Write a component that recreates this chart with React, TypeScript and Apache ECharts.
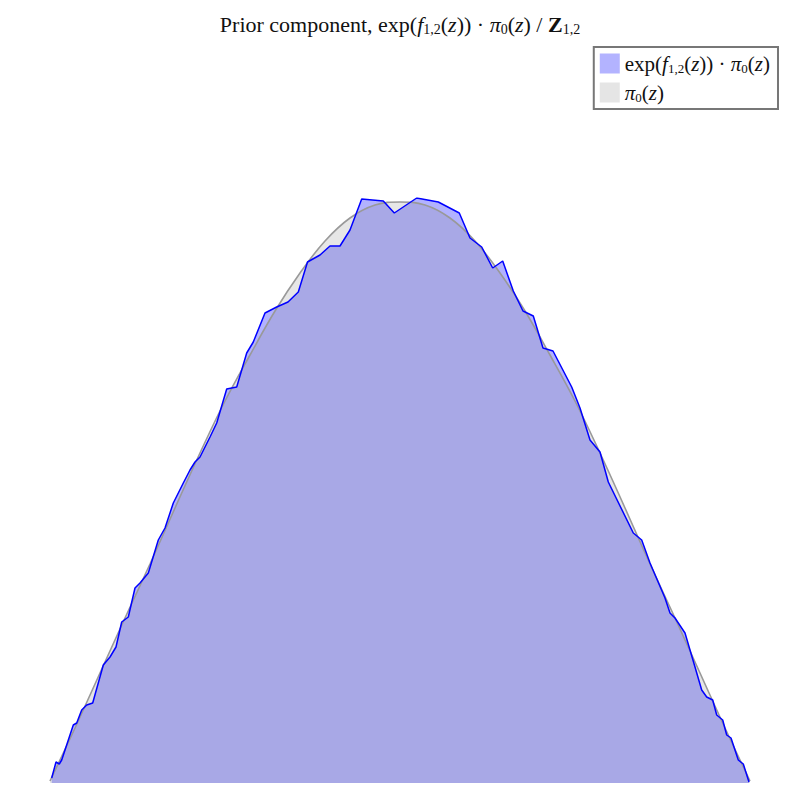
import { useEffect, useRef } from "react";
import * as echarts from "echarts";

// latent z positions and density values
const zPosterior = [
  -3.483, -3.44, -3.407, -3.383, -3.267, -3.233, -3.183, -3.133, -3.073, -2.967,
  -2.9, -2.84, -2.783, -2.717, -2.65, -2.6, -2.517, -2.417, -2.35, -2.267,
  -2.167, -2.1, -2.05, -2.0, -1.9, -1.833, -1.733, -1.633, -1.533, -1.467,
  -1.35, -1.233, -1.12, -1.017, -0.925, -0.8, -0.7, -0.6, -0.5, -0.383,
  -0.167, -0.057, 0.167, 0.383, 0.593, 0.7, 0.817, 0.927, 1.027, 1.133,
  1.23, 1.333, 1.43, 1.53, 1.717, 1.8, 1.9, 2.0, 2.083, 2.333,
  2.417, 2.5, 2.65, 2.7, 2.75, 2.85, 2.95, 3.017, 3.067, 3.127,
  3.167, 3.227, 3.267, 3.31, 3.383, 3.433, 3.49,
];
const pPosterior = [
  0.005, 0.021, 0.019, 0.023, 0.058, 0.06, 0.073, 0.078, 0.08, 0.118,
  0.126, 0.136, 0.161, 0.166, 0.195, 0.2, 0.21, 0.243, 0.255, 0.28,
  0.3, 0.313, 0.321, 0.326, 0.346, 0.36, 0.394, 0.396, 0.43, 0.441,
  0.47, 0.476, 0.481, 0.491, 0.521, 0.528, 0.537, 0.537, 0.553, 0.584,
  0.582, 0.57, 0.585, 0.581, 0.57, 0.545, 0.536, 0.515, 0.522, 0.492,
  0.472, 0.467, 0.435, 0.432, 0.396, 0.375, 0.343, 0.331, 0.301, 0.25,
  0.243, 0.22, 0.185, 0.17, 0.165, 0.15, 0.116, 0.093, 0.086, 0.083,
  0.068, 0.063, 0.048, 0.045, 0.023, 0.019, 0.001,
];

const zPrior = [
  -3.5, -3.25, -3.0, -2.75, -2.5, -2.25, -2.0, -1.75, -1.5, -1.25,
  -1.0, -0.75, -0.5, -0.25, 0.0, 0.25, 0.5, 0.75, 1.0, 1.25,
  1.5, 1.75, 2.0, 2.25, 2.5, 2.75, 3.0, 3.25, 3.5,
];
const pPrior = [
  0.002, 0.055, 0.11, 0.165, 0.219, 0.275, 0.33, 0.382, 0.428, 0.472,
  0.51, 0.542, 0.565, 0.578, 0.581, 0.578, 0.565, 0.542, 0.51, 0.472,
  0.428, 0.382, 0.33, 0.275, 0.219, 0.165, 0.11, 0.055, 0.002,
];

const postName = "exp(f(z))·π0(z)";
const priorName = "π0(z)";

const serif = "Liberation Serif";

function makeRich(size: number, sub: number, lh: number, drop: number) {
  const base = { fontFamily: serif, fontSize: size, color: "#111", fontWeight: "normal", lineHeight: lh };
  return {
    n: { ...base },
    i: { ...base, fontStyle: "italic" },
    s: { ...base, fontSize: sub, padding: [drop, 0, 0, 0] },
    b: { ...base, fontWeight: "bold" },
  };
}

const titleRich = makeRich(22, 14, 26, 11);
const legendRich = makeRich(21, 13, 20, 10);

const postLabel = "{n|exp(}{i|f}{s|1,2}{n|(}{i|z}{n|)) · }{i|π}{s|0}{n|(}{i|z}{n|)}";
const priorLabel = "{i|π}{s|0}{n|(}{i|z}{n|)}";

export default function App() {
  const chartRef = useRef<HTMLDivElement>(null);

  useEffect(() => {
    if (!chartRef.current) return;
    const chart = echarts.init(chartRef.current, null, { renderer: "svg" });

    const postData = zPosterior.map((z, i) => [z, pPosterior[i]]);
    const priorData = zPrior.map((z, i) => [z, pPrior[i]]);

    const option: echarts.EChartsOption = {
      animation: false,
      backgroundColor: "#fff",
      title: {
        text: "{n|Prior component, exp(}{i|f}{s|1,2}{n|(}{i|z}{n|)) · }{i|π}{s|0}{n|(}{i|z}{n|) / }{b|Z}{s|1,2}",
        left: "center",
        top: 6,
        textStyle: { fontWeight: "normal", rich: titleRich } as any,
      },
      legend: {
        orient: "vertical",
        right: 22,
        top: 47,
        padding: [5, 8, 5, 6],
        itemGap: 6,
        itemWidth: 20,
        itemHeight: 20,
        icon: "rect",
        borderColor: "#777",
        borderWidth: 2,
        borderRadius: 0,
        backgroundColor: "#fff",
        data: [
          { name: postName, itemStyle: { color: "#b3b3ff", borderWidth: 0 } },
          { name: priorName, itemStyle: { color: "#e5e5e5", borderWidth: 0 } },
        ],
        formatter: (name: string) => (name === postName ? postLabel : priorLabel),
        textStyle: { fontWeight: "normal", rich: legendRich } as any,
      },
      grid: { left: 50, right: 50, top: 198, bottom: 17 },
      xAxis: {
        type: "value",
        min: -3.5,
        max: 3.5,
        show: false,
      },
      yAxis: {
        type: "value",
        min: 0,
        max: 0.585,
        show: false,
      },
      series: [
        {
          name: postName,
          type: "line",
          data: postData,
          showSymbol: false,
          lineStyle: { width: 0 },
          itemStyle: { color: "#0000ff" },
          areaStyle: { color: "rgba(0,0,255,0.3)", opacity: 1 },
          z: 1,
        },
        {
          name: priorName,
          type: "line",
          data: priorData,
          smooth: 0.4,
          showSymbol: false,
          lineStyle: { color: "#999", width: 1.6 },
          itemStyle: { color: "#999" },
          areaStyle: { color: "rgba(128,128,128,0.2)", opacity: 1 },
          z: 2,
        },
        {
          name: "postLine",
          type: "line",
          data: postData,
          showSymbol: false,
          lineStyle: { color: "#0000ff", width: 1.5 },
          itemStyle: { color: "#0000ff" },
          z: 3,
        },
      ],
    };

    chart.setOption(option);
    return () => chart.dispose();
  }, []);

  return (
    <div
      ref={chartRef}
      style={{ position: "fixed", left: 0, top: 0, width: "800px", height: "800px" }}
    />
  );
}
